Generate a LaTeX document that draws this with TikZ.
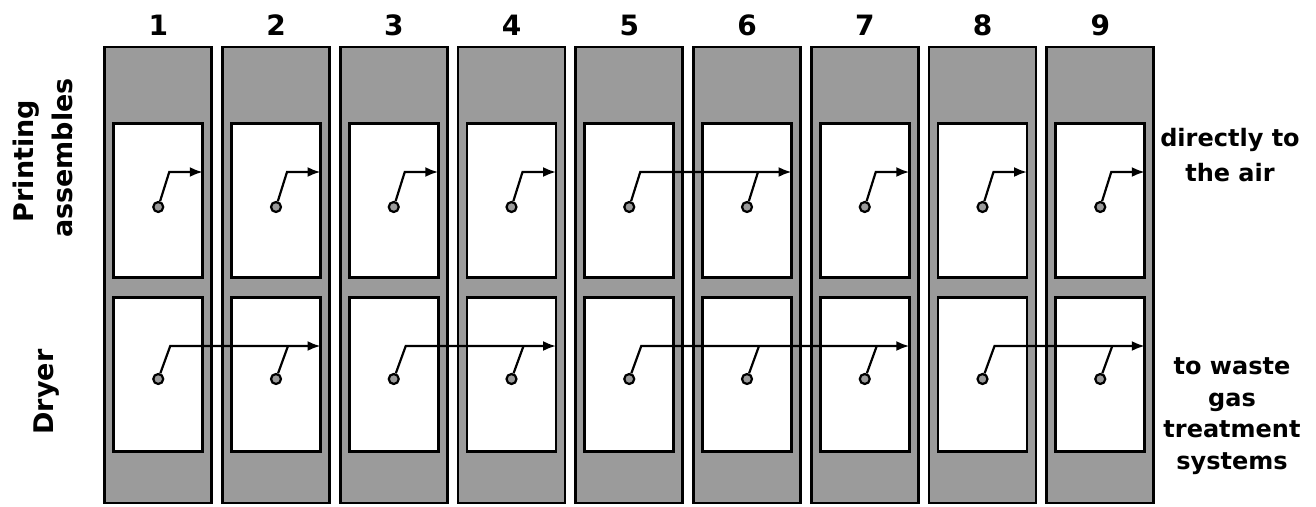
\documentclass[tikz,border=0pt]{standalone}
\usepackage{fontspec}
\setmainfont{DejaVu Sans}
\usetikzlibrary{arrows.meta}
\definecolor{stripgray}{RGB}{155,155,155}
\begin{document}
\begin{tikzpicture}[x=1pt,y=-1pt,
  strip/.style={draw=black, line width=2.6pt, fill=stripgray, minimum width=107pt, minimum height=456pt, inner sep=0pt, outer sep=0pt},
  unitbox/.style={draw=black, line width=2.6pt, fill=white, minimum width=89pt, minimum height=154pt, inner sep=0pt, outer sep=0pt},
  port/.style={circle, draw=black, line width=2.2pt, fill=stripgray, minimum size=10pt, inner sep=0pt},
  pipe/.style={line width=2.2pt},
  flow/.style={pipe, -{Latex[length=13pt,width=10pt]}},
  num/.style={font=\bfseries\fontsize{28}{32}\selectfont, anchor=base, inner sep=0pt},
  side/.style={font=\bfseries\fontsize{27}{32}\selectfont, rotate=90, anchor=base, inner sep=0pt},
  note/.style={align=center, inner sep=0pt}]
\useasboundingbox (0,0) rectangle (1316,506);
\fill[white] (0,0) rectangle (1316,506);
\foreach \i in {1,...,9}{
  \pgfmathsetmacro\cx{104+(\i-1)*117.75+54.25}
  \node[strip] (s\i) at (\cx,275) {};
  \node[unitbox] (t\i) at (\cx,200.5) {};
  \node[unitbox] (b\i) at (\cx,374.5) {};
  \node[port] (tc\i) at (\cx,207) {};
  \node[port] (bc\i) at (\cx,379) {};
  \coordinate (tk\i) at (\cx+11,172);
  \coordinate (bk\i) at (\cx+12,346);
  \node[num] (n\i) at (\cx,35) {\i};
}
% printing assemblies: each to the air, 5 and 6 joined
\foreach \i in {1,2,3,4,7,8,9}{
  \draw[flow] (tc\i) -- (tk\i) -- (tk\i -| t\i.east);
}
\draw[flow] (tc5) -- (tk5) -- (tk5 -| t6.east);
\draw[pipe] (tc6) -- (tk6);
% dryers: grouped to waste gas treatment
\draw[flow] (bc1) -- (bk1) -- (bk1 -| b2.east);
\draw[pipe] (bc2) -- (bk2);
\draw[flow] (bc3) -- (bk3) -- (bk3 -| b4.east);
\draw[pipe] (bc4) -- (bk4);
\draw[flow] (bc5) -- (bk5) -- (bk5 -| b7.east);
\draw[pipe] (bc6) -- (bk6);
\draw[pipe] (bc7) -- (bk7);
\draw[flow] (bc8) -- (bk8) -- (bk8 -| b9.east);
\draw[pipe] (bc9) -- (bk9);
% side labels
\node[side] (pa1) at (33,161) {Printing};
\node[side] (pa2) at (72,158) {assembles};
\node[side] (dry) at (53,392) {Dryer};
\node[note, font=\bfseries\fontsize{24}{35}\selectfont] (air) at (1230,155) {directly to\\the air};
\node[note, font=\bfseries\fontsize{24}{31.5}\selectfont] (waste) at (1232,416) {to waste\\gas\\treatment\\systems};
\end{tikzpicture}
\end{document}
